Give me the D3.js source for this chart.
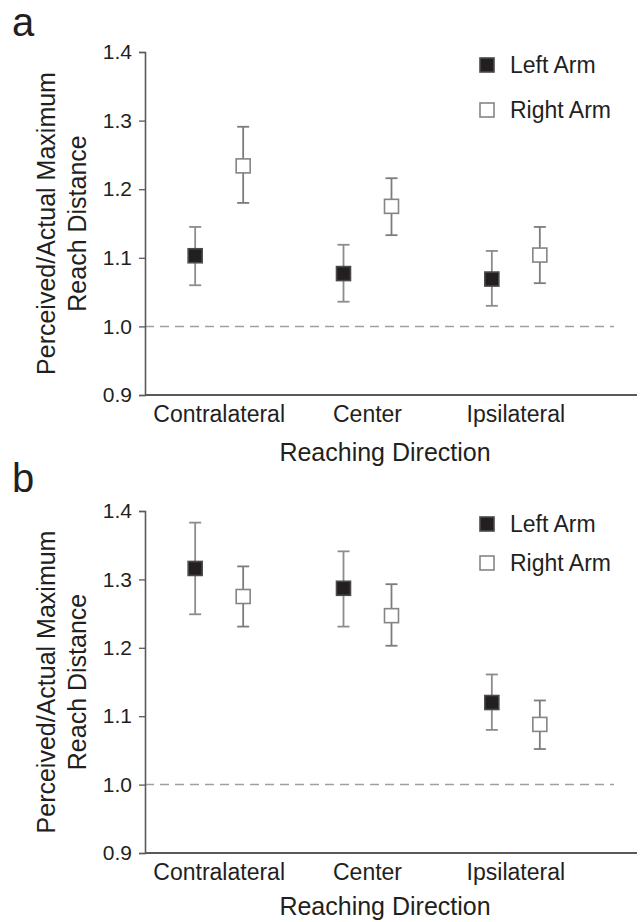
<!DOCTYPE html>
<html>
<head>
<meta charset="utf-8">
<script src="https://cdn.jsdelivr.net/npm/d3@7"></script>
<style>
  body { margin: 0; background: #fff; }
  text { font-family: "Liberation Sans", Arial, sans-serif; fill: #231f20; }
</style>
</head>
<body>
<div id="chart"></div>
<script>
// categories and series
var categories = ['Contralateral', 'Center', 'Ipsilateral']
var arms = ['Left Arm', 'Right Arm']
var yTicks = [0.9, 1.0, 1.1, 1.2, 1.3, 1.4]

// panel a values (mean, lower and upper end of error bar)
var aLeftMean  = [1.103, 1.077, 1.069]
var aLeftLow   = [1.060, 1.036, 1.030]
var aLeftHigh  = [1.145, 1.119, 1.110]
var aRightMean = [1.234, 1.175, 1.104]
var aRightLow  = [1.180, 1.133, 1.063]
var aRightHigh = [1.291, 1.216, 1.145]

// panel b values
var bLeftMean  = [1.316, 1.287, 1.120]
var bLeftLow   = [1.249, 1.231, 1.080]
var bLeftHigh  = [1.383, 1.341, 1.161]
var bRightMean = [1.275, 1.247, 1.088]
var bRightLow  = [1.231, 1.203, 1.052]
var bRightHigh = [1.319, 1.293, 1.123]

var W = 641, H = 922

var svg = d3.select('#chart')
  .append('svg')
  .attr('width', W)
  .attr('height', H)

// build point rows for one panel
function makeRows(leftMean, leftLow, leftHigh, rightMean, rightLow, rightHigh) {
  var rows = []
  categories.forEach(function(c, i) {
    rows.push({cat: c, arm: arms[0], mean: leftMean[i], lo: leftLow[i], hi: leftHigh[i]})
    rows.push({cat: c, arm: arms[1], mean: rightMean[i], lo: rightLow[i], hi: rightHigh[i]})
  })
  return rows
}

function drawPanel(cfg) {
  var left = 145, right = 637
  var x = d3.scaleBand().domain(categories).range([left, 590])
  var offset = d3.scalePoint().domain(arms).range([-24, 24])
  var y = d3.scaleLinear().domain([0.9, 1.4]).range([cfg.bottom, cfg.top])
  var cx = function(d) { return x(d.cat) + x.bandwidth() / 2 + offset(d.arm) }

  var g = svg.append('g')

  // panel letter
  g.append('text')
    .attr('x', 12)
    .attr('y', cfg.letterY)
    .style('font-size', '40px')
    .text(cfg.letter)

  // reference line at 1.0
  g.append('line')
    .attr('x1', left)
    .attr('x2', 614)
    .attr('y1', y(1.0))
    .attr('y2', y(1.0))
    .attr('stroke', '#a0a0a0')
    .attr('stroke-width', 1.5)
    .attr('stroke-dasharray', '9,6')

  // y axis
  var yAxis = g.append('g')
    .attr('transform', 'translate(' + left + ',0)')
    .call(d3.axisLeft(y).tickValues(yTicks).tickFormat(d3.format('.1f'))
      .tickSizeOuter(0).tickSize(6).tickPadding(7))
  yAxis.select('.domain').attr('stroke', '#595959').attr('stroke-width', 1.6)
  yAxis.selectAll('.tick line').attr('stroke', '#595959').attr('stroke-width', 1.3)
  yAxis.selectAll('.tick text')
    .style('font-size', '21px')
    .style('font-family', '"Liberation Sans", Arial, sans-serif')
    .attr('fill', '#231f20')

  // x axis (line runs past the last category)
  g.append('line')
    .attr('x1', left)
    .attr('x2', right)
    .attr('y1', cfg.bottom)
    .attr('y2', cfg.bottom)
    .attr('stroke', '#595959')
    .attr('stroke-width', 1.8)

  var xAxis = g.append('g')
    .attr('transform', 'translate(0,' + cfg.bottom + ')')
    .call(d3.axisBottom(x).tickSize(0).tickPadding(11))
  xAxis.select('.domain').remove()
  xAxis.selectAll('.tick text')
    .style('font-size', '23px')
    .style('font-family', '"Liberation Sans", Arial, sans-serif')
    .attr('fill', '#231f20')

  // axis titles
  g.append('text')
    .attr('x', 385)
    .attr('y', cfg.titleY)
    .attr('text-anchor', 'middle')
    .style('font-size', '25px')
    .text('Reaching Direction')

  var midY = (cfg.top + cfg.bottom) / 2
  var yTitle = g.append('text')
    .attr('transform', 'translate(55,' + midY + ') rotate(-90)')
    .attr('text-anchor', 'middle')
    .style('font-size', '25px')
  yTitle.append('tspan').attr('x', 0).attr('y', 0).text('Perceived/Actual Maximum')
  yTitle.append('tspan').attr('x', 0).attr('y', 31).text('Reach Distance')

  // error bars
  var bars = g.selectAll('.err')
    .data(cfg.rows)
    .enter()
    .append('g')
    .attr('class', 'err')
    .attr('stroke', function(d) { return d.arm == arms[0] ? '#8c8c8c' : '#7c7c7c' })
    .attr('stroke-width', 1.8)

  bars.append('line')
    .attr('x1', cx).attr('x2', cx)
    .attr('y1', function(d) { return y(d.lo) })
    .attr('y2', function(d) { return y(d.hi) })
  bars.append('line')
    .attr('x1', function(d) { return cx(d) - 6 })
    .attr('x2', function(d) { return cx(d) + 6 })
    .attr('y1', function(d) { return y(d.hi) })
    .attr('y2', function(d) { return y(d.hi) })
  bars.append('line')
    .attr('x1', function(d) { return cx(d) - 6 })
    .attr('x2', function(d) { return cx(d) + 6 })
    .attr('y1', function(d) { return y(d.lo) })
    .attr('y2', function(d) { return y(d.lo) })

  // square markers
  g.selectAll('.dot')
    .data(cfg.rows)
    .enter()
    .append('rect')
    .attr('class', 'dot')
    .attr('x', function(d) { return cx(d) - 7 })
    .attr('y', function(d) { return y(d.mean) - 7 })
    .attr('width', 14)
    .attr('height', 14)
    .attr('fill', function(d) { return d.arm == arms[0] ? '#231f20' : '#fff' })
    .attr('stroke', function(d) { return d.arm == arms[0] ? '#4a4a4a' : '#858585' })
    .attr('stroke-width', 1.6)

  // legend
  var legend = g.selectAll('.legend')
    .data(arms)
    .enter()
    .append('g')
    .attr('class', 'legend')
    .attr('transform', function(d, i) { return 'translate(487,' + (cfg.legendY + i * cfg.legendGap) + ')' })

  legend.append('rect')
    .attr('x', -7).attr('y', -7)
    .attr('width', 14).attr('height', 14)
    .attr('fill', function(d, i) { return i == 0 ? '#231f20' : '#fff' })
    .attr('stroke', function(d, i) { return i == 0 ? '#4a4a4a' : '#858585' })
    .attr('stroke-width', 1.6)

  legend.append('text')
    .attr('x', 23)
    .attr('y', 8)
    .style('font-size', '23px')
    .text(function(d) { return d })
}

drawPanel({
  letter: 'a', letterY: 36,
  top: 52, bottom: 395, titleY: 461,
  legendY: 65, legendGap: 45,
  rows: makeRows(aLeftMean, aLeftLow, aLeftHigh, aRightMean, aRightLow, aRightHigh)
})

drawPanel({
  letter: 'b', letterY: 492,
  top: 511, bottom: 853, titleY: 915,
  legendY: 524, legendGap: 39,
  rows: makeRows(bLeftMean, bLeftLow, bLeftHigh, bRightMean, bRightLow, bRightHigh)
})
</script>
</body>
</html>
